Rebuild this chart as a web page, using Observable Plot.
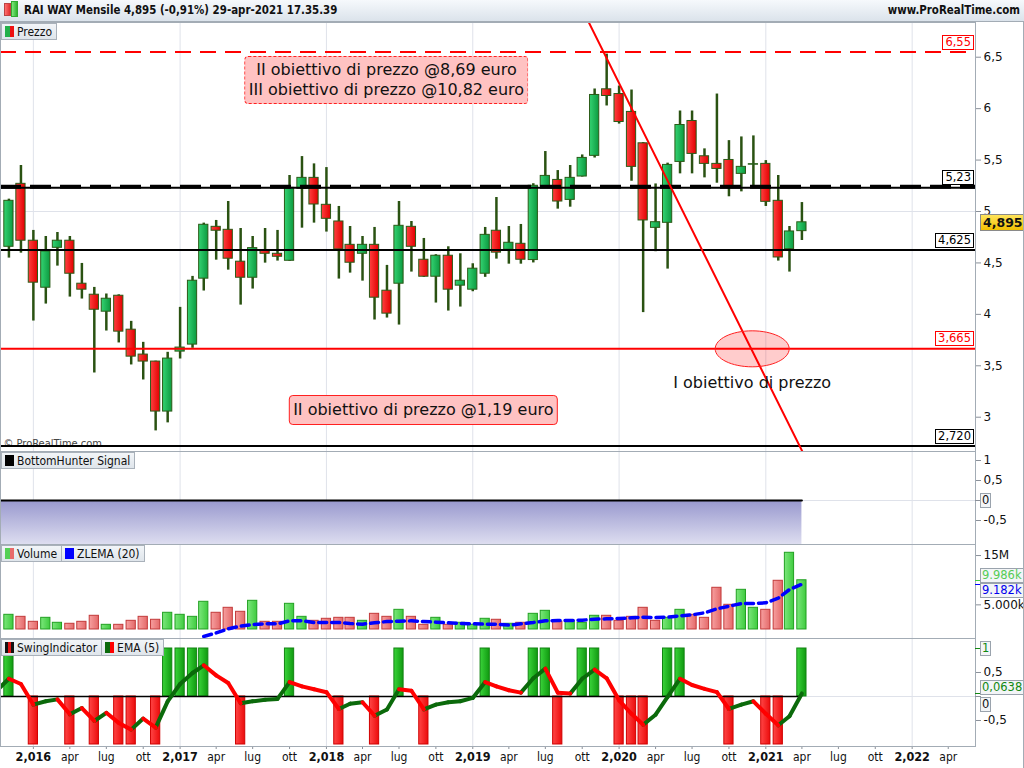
<!DOCTYPE html>
<html lang="it">
<head>
<meta charset="utf-8">
<title>RAI WAY Mensile</title>
<script src="https://cdn.jsdelivr.net/npm/d3@7"></script>
<script src="https://cdn.jsdelivr.net/npm/@observablehq/plot@0.6"></script>
<style>
html,body{margin:0;padding:0;background:#fff;}
#root{position:relative;width:1024px;height:768px;overflow:hidden;background:#fff;font-family:"DejaVu Sans",sans-serif;}
.wrap{position:absolute;left:0;}
.hdr{position:absolute;left:0;top:0;width:1024px;height:21px;background:linear-gradient(#f6f9fc,#dbe3eb);border-bottom:1px solid #a3acb5;}
.hdr .t{position:absolute;top:3px;font:bold 11.4px "DejaVu Sans Condensed",sans-serif;color:#111;white-space:nowrap;}
.leg{position:absolute;left:1px;display:flex;}
.leg .it{display:flex;align-items:center;height:15px;padding:0 4px 0 3px;background:linear-gradient(#f2f5f8,#dfe5eb);border:1px solid #a9b1ba;margin-right:-1px;font:12px "DejaVu Sans Condensed",sans-serif;color:#111;white-space:nowrap;}
.leg .ic{display:inline-block;width:9px;height:11px;margin-right:3px;}
.lvl{position:absolute;background:#fff;font:11.5px "DejaVu Sans",sans-serif;padding:0 2px;line-height:13px;border:1px solid;white-space:nowrap;}
.note{position:absolute;background:#ffc2c2;border-radius:4px;font:16px "DejaVu Sans",sans-serif;color:#111;text-align:center;transform:translate(-50%,-50%);padding:3px 3px;white-space:nowrap;line-height:20px;}
.axbox{position:absolute;left:980px;background:#f3f5f7;border:1px solid #9aa3ad;font:11.5px "DejaVu Sans",sans-serif;line-height:13px;padding:0 1px;white-space:nowrap;}
</style>
</head>
<body>
<svg width="0" height="0" style="position:absolute">
  <defs>
    <linearGradient id="cG" x1="0" x2="1" y1="0" y2="0"><stop offset="0" stop-color="#34d372"/><stop offset="1" stop-color="#0c9a40"/></linearGradient>
    <linearGradient id="cR" x1="0" x2="1" y1="0" y2="0"><stop offset="0" stop-color="#ff4040"/><stop offset="1" stop-color="#e20000"/></linearGradient>
    <linearGradient id="vG" x1="0" x2="1" y1="0" y2="0"><stop offset="0" stop-color="#7be77b"/><stop offset="1" stop-color="#3fcb3f"/></linearGradient>
    <linearGradient id="vR" x1="0" x2="1" y1="0" y2="0"><stop offset="0" stop-color="#f7a0a0"/><stop offset="1" stop-color="#e46a6a"/></linearGradient>
    <linearGradient id="sG" x1="0" x2="1" y1="0" y2="0"><stop offset="0" stop-color="#3ad43a"/><stop offset="1" stop-color="#109a10"/></linearGradient>
    <linearGradient id="sR" x1="0" x2="1" y1="0" y2="0"><stop offset="0" stop-color="#ff4646"/><stop offset="1" stop-color="#ec0c0c"/></linearGradient>
    <linearGradient id="bhG" x1="0" x2="0" y1="0" y2="1"><stop offset="0" stop-color="#9898ce"/><stop offset="1" stop-color="#eaeaf6"/></linearGradient>
  </defs>
</svg>
<div id="root"></div>
<script>
// ---------------- DATA ----------------
const months = ["2015-11","2015-12",
  "2016-01","2016-02","2016-03","2016-04","2016-05","2016-06","2016-07","2016-08","2016-09","2016-10","2016-11","2016-12",
  "2017-01","2017-02","2017-03","2017-04","2017-05","2017-06","2017-07","2017-08","2017-09","2017-10","2017-11","2017-12",
  "2018-01","2018-02","2018-03","2018-04","2018-05","2018-06","2018-07","2018-08","2018-09","2018-10","2018-11","2018-12",
  "2019-01","2019-02","2019-03","2019-04","2019-05","2019-06","2019-07","2019-08","2019-09","2019-10","2019-11","2019-12",
  "2020-01","2020-02","2020-03","2020-04","2020-05","2020-06","2020-07","2020-08","2020-09","2020-10","2020-11","2020-12",
  "2021-01","2021-02","2021-03","2021-04"];

const open  = [4.657,5.269,4.716,4.259,4.647,4.716,4.298,4.191,4.026,4.181,3.851,3.609,3.541,3.055,3.638,3.706,4.347,4.851,4.822,4.512,4.356,4.621,4.589,4.521,5.22,5.327,5.065,4.903,4.676,4.589,4.676,4.23,4.298,4.851,4.531,4.366,4.57,4.279,4.24,4.395,4.813,4.628,4.686,4.528,5.246,5.307,5.113,5.34,5.541,6.188,6.142,5.968,5.663,4.841,4.89,5.482,5.88,5.537,5.463,5.501,5.366,5.455,5.463,5.104,4.634,4.809];
const high  = [5.12,5.447,4.816,4.757,4.796,4.757,4.495,4.262,4.198,4.19,3.932,3.728,3.545,3.631,4.068,4.369,4.887,4.913,5.097,4.835,4.757,4.835,4.816,5.35,5.534,5.463,5.427,5.049,4.854,4.757,4.845,4.476,5.097,4.903,4.738,4.58,4.657,4.589,4.492,4.845,5.136,4.854,4.874,5.27,5.583,5.398,5.447,5.55,6.191,6.53,6.22,6.181,5.67,5.268,5.47,5.977,5.977,5.609,6.142,5.689,5.725,5.735,5.495,5.35,4.854,5.087];
const low   = [4.547,4.595,3.935,4.10,4.469,4.168,4.149,3.43,3.838,3.722,3.508,3.362,2.867,2.945,3.566,3.67,4.227,4.527,4.43,4.09,4.246,4.498,4.518,4.515,4.838,4.887,4.80,4.343,4.401,4.323,3.945,3.964,3.896,4.411,4.36,4.11,4.032,4.071,4.22,4.36,4.537,4.488,4.488,4.50,5.24,5.023,5.042,5.335,5.52,6.026,5.85,5.294,4.017,4.609,4.44,5.366,5.366,5.327,5.275,5.143,5.191,5.238,5.049,4.518,4.411,4.718];
const close = [5.104,4.716,4.308,4.612,4.716,4.395,4.24,4.045,4.152,3.832,3.589,3.541,3.055,3.570,3.677,4.327,4.871,4.813,4.541,4.356,4.644,4.589,4.56,5.23,5.327,5.068,4.929,4.631,4.502,4.676,4.162,4.007,4.861,4.657,4.366,4.57,4.24,4.327,4.444,4.773,4.60,4.696,4.531,5.25,5.346,5.097,5.327,5.521,6.133,6.123,5.87,5.434,4.913,4.896,5.453,5.841,5.56,5.463,5.414,5.233,5.434,5.46,5.094,4.553,4.806,4.895];

// volume in millions of shares
const volume = [2.98,2.57,1.56,2.37,1.36,1.16,1.56,2.78,0.95,0.95,1.76,2.57,1.97,3.39,2.98,2.57,5.62,3.39,4.40,3.59,5.82,1.56,1.56,5.21,2.57,1.76,2.17,2.37,2.37,1.76,3.18,2.57,3.99,2.57,0.95,2.37,0.95,1.36,0.95,2.17,1.97,1.16,1.36,3.18,3.79,1.56,1.76,1.36,2.78,2.78,1.76,2.57,4.40,1.76,2.37,3.99,2.98,2.37,8.46,5.01,8.05,4.40,3.99,9.88,15.56,9.986];
const zlema = [null,null,null,null,null,null,null,null,null,null,null,null,null,null,null,null,-1.42,-0.68,0.14,0.68,1.01,1.15,1.15,1.76,1.76,1.42,1.42,1.42,1.22,1.08,1.35,1.62,1.69,1.76,1.62,1.49,1.35,1.22,1.15,1.08,1.08,0.88,1.15,1.42,1.76,1.83,1.83,1.89,2.09,2.16,2.23,2.37,2.5,2.43,2.5,2.77,2.98,3.38,4.19,4.73,5.27,5.27,5.41,6.36,8.11,9.182];

const swing = [1,0,-1,0,0,-1,0,-1,0,-1,-1,0,-1,1,1,1,1,0,0,-1,0,0,0,1,0,0,0,-1,0,0,-1,0,1,0,-1,0,0,0,0,1,0,0,0,1,1,-1,0,1,1,0,-1,-1,-1,0,1,1,0,0,0,-1,0,0,-1,-1,0,1];
const emaLeadMonth = "2015-10";
const emaLead = 0.12;
const ema5 = [0.37,0.26,-0.17,-0.10,-0.06,-0.37,-0.24,-0.51,-0.34,-0.55,-0.69,-0.46,-0.65,-0.10,0.26,0.49,0.65,0.44,0.28,-0.14,-0.10,-0.07,-0.05,0.30,0.21,0.15,0.09,-0.26,-0.15,-0.12,-0.40,-0.27,0.15,0.12,-0.27,-0.17,-0.12,-0.10,-0.03,0.30,0.21,0.13,0.08,0.38,0.58,0.08,0.06,0.37,0.56,0.38,-0.08,-0.36,-0.59,-0.38,-0.01,0.37,0.24,0.16,0.09,-0.26,-0.17,-0.10,-0.36,-0.60,-0.41,0.0638];

const bhMonths = ["2015-10", ...months];
const bhSignal = [0,0,0,0,0,0,0,0,0,0,0,0,0,0,0,0,0,0,0,0,0,0,0,0,0,0,0,0,0,0,0,0,0,0,0,0,0,0,0,0,0,0,0,0,0,0,0,0,0,0,0,0,0,0,0,0,0,0,0,0,0,0,0,0,0,0,0];

const levelValues = [6.55, 5.23, 4.625, 3.665, 2.72];
const levelLabels = ["6,55", "5,23", "4,625", "3,665", "2,720"];
const trendMonths = ["2019-10-16", "2021-04-03"];
const trendValues = [6.85, 2.66];
const targetMonth = "2020-11-28";
const targetValue = 3.665;
const targetText = "I obiettivo di prezzo";
const noteUpperMonth = "2018-06-01", noteUpperValue = 6.27;
const noteUpperLines = ["II obiettivo di prezzo @8,69 euro", "III obiettivo di prezzo @10,82 euro"];
const noteLowerMonth = "2018-09-01", noteLowerValue = 3.07;
const noteLowerText = "II obiettivo di prezzo @1,19 euro";
const lastPrice = 4.895, lastPriceLabel = "4,895";
const volLast = 9.986, volLastLabel = "9.986k";
const zlemaLast = 9.182, zlemaLastLabel = "9.182k";
const emaLastLabel = "0,0638";

const priceTicks = [3, 3.5, 4, 4.5, 5, 5.5, 6, 6.5];
const volTicks = [5, 15], volTickLabels = ["5.000k", "15M"];
const bhTicks = [-0.5, 0.5, 1];
const swingTicks = [-0.5, 0.5];
const yearTicks = ["2016","2017","2018","2019","2020","2021","2022"];
const quarterTicks = ["2016-04","2016-07","2016-10","2017-04","2017-07","2017-10","2018-04","2018-07","2018-10",
  "2019-04","2019-07","2019-10","2020-04","2020-07","2020-10","2021-04","2021-07","2021-10","2022-04"];
const monthNames = ["gen","feb","mar","apr","mag","giu","lug","ago","set","ott","nov","dic"];

// ---------------- BUILD ----------------
const D = s => new Date(s.length === 4 ? s + "-01-01T00:00:00Z" : s.length === 7 ? s + "-01T00:00:00Z" : s + "T00:00:00Z");
const dates = months.map(D);
const candles = dates.map((date, i) => ({date, open: open[i], high: high[i], low: low[i], close: close[i]}));
const vols = dates.map((date, i) => ({date, v: volume[i], up: i === 0 ? true : close[i] >= close[i - 1]}));
const zl = dates.map((date, i) => ({date, v: zlema[i]})).filter(d => d.v != null);
const sw = dates.map((date, i) => ({date, v: swing[i]}));
const emaPts = [{date: D(emaLeadMonth), v: emaLead}, ...dates.map((date, i) => ({date, v: ema5[i]}))];
const emaSegs = d3.pairs(emaPts).map(([a, b]) => ({x1: a.date, y1: a.v, x2: b.date, y2: b.v, up: b.v >= a.v}));
const bh = bhMonths.map((m, i) => ({date: D(m), v: bhSignal[i]}));
const years = yearTicks.map(D);
const quarters = quarterTicks.map(D);
const half = 11.5 * 864e5;
const xl = d => new Date(+d.date - half), xr = d => new Date(+d.date + half);
const itFmt = d => String(d).replace(".", ",");

const W = 1024, MR = 49;
const xScale = {type: "utc", domain: [D("2015-10-11"), D("2022-06-08")], axis: null, label: null};
const baseStyle = {fontFamily: "DejaVu Sans, sans-serif", fontSize: "12px", background: "transparent", overflow: "visible"};
const common = {width: W, marginLeft: 0, marginRight: MR, marginTop: 0, marginBottom: 0, style: baseStyle};
const gridX = () => Plot.ruleX(years, {stroke: "#dfe2ea", strokeWidth: 1});
const frame = () => Plot.frame({stroke: "#a3acb5"});
const yAxis = (ticks, fmt) => Plot.axisY({anchor: "right", ticks, tickFormat: fmt, tickSize: 5, tickPadding: 3, stroke: "#8a9099", fill: "#111", fontSize: 12, label: null});

const root = document.getElementById("root");
function mount(el, top) { const w = document.createElement("div"); w.className = "wrap"; w.style.top = top + "px"; w.appendChild(el); root.appendChild(w); return el; }
function html(tag, cls, css, text) { const e = document.createElement(tag); if (cls) e.className = cls; Object.assign(e.style, css); if (text != null) e.textContent = text; root.appendChild(e); return e; }

const TOP = {price: 22, bh: 451, vol: 544, swing: 638};

// header
const hdr = html("div", "hdr", {});
hdr.innerHTML = '<div style="position:absolute;left:4px;top:3px;width:5px;height:11px;background:linear-gradient(90deg,#ff7070,#e03030);border:1px solid #b44"></div>' +
  '<div style="position:absolute;left:11px;top:1px;width:5px;height:14px;background:linear-gradient(90deg,#7ee67e,#2fb52f);border:1px solid #3a3"></div>';
const ht = document.createElement("div"); ht.className = "t"; ht.style.left = "24px"; ht.textContent = "RAI WAY Mensile 4,895 (-0,91%) 29-apr-2021 17.35.39"; hdr.appendChild(ht);
const hr = document.createElement("div"); hr.className = "t"; hr.style.right = "4px"; hr.textContent = "www.ProRealTime.com"; hdr.appendChild(hr);

// ---- PRICE PANEL ----
const up = d => d.close >= d.open;
const ellipseSymbol = {draw(ctx) { const rx = 37, ry = 18, k = 0.5523;
  ctx.moveTo(rx, 0); ctx.bezierCurveTo(rx, ry * k, rx * k, ry, 0, ry); ctx.bezierCurveTo(-rx * k, ry, -rx, ry * k, -rx, 0);
  ctx.bezierCurveTo(-rx, -ry * k, -rx * k, -ry, 0, -ry); ctx.bezierCurveTo(rx * k, -ry, rx, -ry * k, rx, 0); ctx.closePath(); }};
const trend = trendMonths.map((m, i) => ({date: D(m), v: trendValues[i]}));
const levels = levelValues.map((v, i) => ({v, label: levelLabels[i]}));

const price = Plot.plot({
  ...common, height: TOP.bh - TOP.price,
  x: xScale, y: {domain: [2.6667, 6.8375], label: null},
  marks: [
    gridX(),
    Plot.ruleY([5], {stroke: "#dfe2ea"}),
    Plot.text(["© ProRealTime.com"], {frameAnchor: "bottom-left", dx: 3, dy: -5, textAnchor: "start", lineAnchor: "bottom", fontSize: 11, fill: "#444", fontFamily: "DejaVu Sans Condensed"}),
    Plot.ruleX(candles, {x: "date", y1: "low", y2: "high", stroke: "#2a5212", strokeWidth: 2.5}),
    Plot.rect(candles, {filter: up, x1: xl, x2: xr, y1: "open", y2: "close", fill: "url(#cG)", stroke: "#2a5a16", strokeWidth: 1}),
    Plot.rect(candles, {filter: d => !up(d), x1: xl, x2: xr, y1: "open", y2: "close", fill: "url(#cR)", stroke: "#2a5a16", strokeWidth: 1}),
    Plot.ruleY([levels[0]], {y: "v", stroke: "#ff0000", strokeWidth: 2, strokeDasharray: "16,9"}),
    Plot.ruleY([levels[1]], {y: "v", stroke: "#000", strokeWidth: 2}),
    Plot.ruleY([levels[1]], {y: "v", stroke: "#000", strokeWidth: 4, strokeDasharray: "21,9", dy: -1}),
    Plot.ruleY([levels[2]], {y: "v", stroke: "#000", strokeWidth: 2}),
    Plot.ruleY([levels[3]], {y: "v", stroke: "#ff0000", strokeWidth: 2}),
    Plot.ruleY([levels[4]], {y: "v", stroke: "#000", strokeWidth: 2}),
    Plot.line(trend, {x: "date", y: "v", stroke: "#ff0000", strokeWidth: 2, clip: true}),
    Plot.dot([{date: D(targetMonth), v: targetValue}], {x: "date", y: "v", symbol: ellipseSymbol, r: 10, fill: "#ff0000", fillOpacity: 0.2, stroke: "#ff2020", strokeWidth: 1}),
    Plot.text([targetText], {x: () => D(targetMonth), y: () => 3.33, fontSize: 16, fill: "#111", fontFamily: "DejaVu Sans"}),
    yAxis(priceTicks, itFmt),
    frame()
  ]
});
mount(price, TOP.price);
const py = v => TOP.price + price.scale("y").apply(v);
const px = d => price.scale("x").apply(d);

// level labels
const lvlColors = ["#ff0000", "#000", "#000", "#ff0000", "#000"];
levels.forEach((l, i) => {
  html("div", "lvl", {right: (W - 974) + "px", top: (py(l.v) - 17) + "px", borderColor: lvlColors[i], color: lvlColors[i]}, l.label);
});
// last price yellow label
html("div", "", {position: "absolute", left: "980px", top: (py(lastPrice) - 8) + "px", height: "15px", lineHeight: "15px", padding: "0 2px",
  background: "linear-gradient(#ffe45c,#f2c000)", border: "1px solid #8a8a8a", font: "bold 12.5px 'DejaVu Sans', sans-serif", color: "#111"}, lastPriceLabel);
// notes
const n1 = html("div", "note", {left: px(D(noteUpperMonth)) + "px", top: py(noteUpperValue) + "px", border: "1px dashed #ff2020"});
n1.innerHTML = noteUpperLines.join("<br>");
html("div", "note", {left: px(D(noteLowerMonth)) + "px", top: py(noteLowerValue) + "px", border: "1px solid #ff2020", padding: "4px 3px"}, noteLowerText);

// ---- BOTTOMHUNTER PANEL ----
const bhPlot = Plot.plot({
  ...common, height: TOP.vol - TOP.bh,
  x: xScale, y: {domain: [-1.1, 1.225], label: null},
  marks: [
    gridX(),
    Plot.ruleY([0], {stroke: "#dfe2ea"}),
    Plot.areaY(bh, {x: "date", y1: "v", y2: () => -1.3, fill: "url(#bhG)", clip: true}),
    Plot.lineY(bh, {x: "date", y: "v", stroke: "#000", strokeWidth: 2, clip: true}),
    yAxis(bhTicks, itFmt),
    frame()
  ]
});
mount(bhPlot, TOP.bh);
const bhy = v => TOP.bh + bhPlot.scale("y").apply(v);
html("div", "", {position: "absolute", left: "975px", width: "6px", height: "1px", top: bhy(0) + "px", background: "#8a9099"});
html("div", "axbox", {top: (bhy(0) - 7) + "px", color: "#111"}, "0");

// ---- VOLUME PANEL ----
const volPlot = Plot.plot({
  ...common, height: TOP.swing - TOP.vol,
  x: xScale, y: {domain: [-1.826, 17.24], label: null},
  marks: [
    gridX(),
    Plot.rect(vols, {filter: d => d.up, x1: xl, x2: xr, y1: 0, y2: "v", fill: "url(#vG)", stroke: "#22a022", strokeWidth: 1}),
    Plot.rect(vols, {filter: d => !d.up, x1: xl, x2: xr, y1: 0, y2: "v", fill: "url(#vR)", stroke: "#c23a3a", strokeWidth: 1}),
    Plot.line(zl, {x: "date", y: "v", stroke: "#0000ff", strokeWidth: 3.5, strokeDasharray: "8,5", clip: true}),
    yAxis(volTicks, d => volTickLabels[volTicks.indexOf(d)]),
    frame()
  ]
});
mount(volPlot, TOP.vol);
const vy = v => TOP.vol + volPlot.scale("y").apply(v);
html("div", "", {position: "absolute", left: "975px", width: "6px", height: "1px", top: vy(volLast) + "px", background: "#44cc44"});
html("div", "", {position: "absolute", left: "975px", width: "6px", height: "1px", top: vy(zlemaLast) + "px", background: "#0000ff"});
html("div", "axbox", {top: (vy(volLast) - 12) + "px", color: "#55cc55"}, volLastLabel);
html("div", "axbox", {top: (vy(zlemaLast) - 1) + "px", color: "#0000ee"}, zlemaLastLabel);

// ---- SWING PANEL (+ x axis) ----
const swingPlot = Plot.plot({
  ...common, height: 768 - TOP.swing, marginBottom: 22,
  x: xScale, y: {domain: [-1.0417, 1.2083], label: null},
  marks: [
    gridX(),
    Plot.ruleY([0], {stroke: "#dfe2ea"}),
    Plot.rect(sw, {filter: d => d.v > 0, x1: xl, x2: xr, y1: 0, y2: "v", fill: "url(#sG)", stroke: "#128412", strokeWidth: 1}),
    Plot.rect(sw, {filter: d => d.v < 0, x1: xl, x2: xr, y1: 0, y2: "v", fill: "url(#sR)", stroke: "#d00000", strokeWidth: 1}),
    Plot.ruleY([0], {x1: () => emaPts[0].date, x2: () => dates[dates.length - 1], stroke: "#000", strokeWidth: 1.5, clip: true}),
    Plot.link(emaSegs, {filter: d => d.up, x1: "x1", y1: "y1", x2: "x2", y2: "y2", stroke: "#0b6a0b", strokeWidth: 4, strokeLinecap: "round", clip: true}),
    Plot.link(emaSegs, {filter: d => !d.up, x1: "x1", y1: "y1", x2: "x2", y2: "y2", stroke: "#ff0000", strokeWidth: 4, strokeLinecap: "round", clip: true}),
    yAxis(swingTicks, itFmt),
    Plot.axisX(years, {anchor: "bottom", tickFormat: d => d.getUTCFullYear(), fontWeight: "bold", tickSize: 3, tickPadding: 3, fontSize: 12.5, fontFamily: "DejaVu Sans Condensed", fill: "#111", stroke: "#8a9099", label: null}),
    Plot.axisX(quarters, {anchor: "bottom", tickFormat: d => monthNames[d.getUTCMonth()], tickSize: 3, tickPadding: 3, fontSize: 12, fontFamily: "DejaVu Sans Condensed", fill: "#111", stroke: "#8a9099", label: null}),
    frame()
  ]
});
mount(swingPlot, TOP.swing);
const sy = v => TOP.swing + swingPlot.scale("y").apply(v);
html("div", "", {position: "absolute", left: "975px", width: "6px", height: "1px", top: sy(1) + "px", background: "#118811"});
html("div", "", {position: "absolute", left: "975px", width: "6px", height: "1px", top: sy(ema5[ema5.length - 1]) + "px", background: "#118811"});
html("div", "", {position: "absolute", left: "975px", width: "6px", height: "1px", top: sy(0) + "px", background: "#8a9099"});
html("div", "axbox", {top: (sy(1) - 7) + "px", color: "#118811"}, "1");
html("div", "axbox", {top: (sy(ema5[ema5.length - 1]) - 13) + "px", color: "#118811"}, emaLastLabel);
html("div", "axbox", {top: (sy(0) + 1) + "px", color: "#111"}, "0");

// legends
function legend(top, items) {
  const l = html("div", "leg", {top: top + "px"});
  items.forEach(([txt, bg]) => { const it = document.createElement("div"); it.className = "it";
    it.innerHTML = '<span class="ic" style="background:' + bg + '"></span>'; it.appendChild(document.createTextNode(txt)); l.appendChild(it); });
}
legend(TOP.price + 1, [["Prezzo", "linear-gradient(90deg,#22b04a 50%,#ee1111 50%)"]]);
legend(TOP.bh + 1, [["BottomHunter Signal", "#000"]]);
legend(TOP.vol + 1, [["Volume", "linear-gradient(90deg,#55d055 50%,#e86a6a 50%)"], ["ZLEMA (20)", "#0000ff"]]);
legend(TOP.swing + 1, [["SwingIndicator", "linear-gradient(90deg,#111 35%,#e01010 35%,#e01010 70%,#111 70%)"], ["EMA (5)", "linear-gradient(90deg,#0b6a0b 50%,#ff0000 50%)"]]);
// outer right border
html("div", "", {position: "absolute", left: "1023px", top: "22px", width: "1px", height: "746px", background: "#a3acb5"});
</script>
</body>
</html>
